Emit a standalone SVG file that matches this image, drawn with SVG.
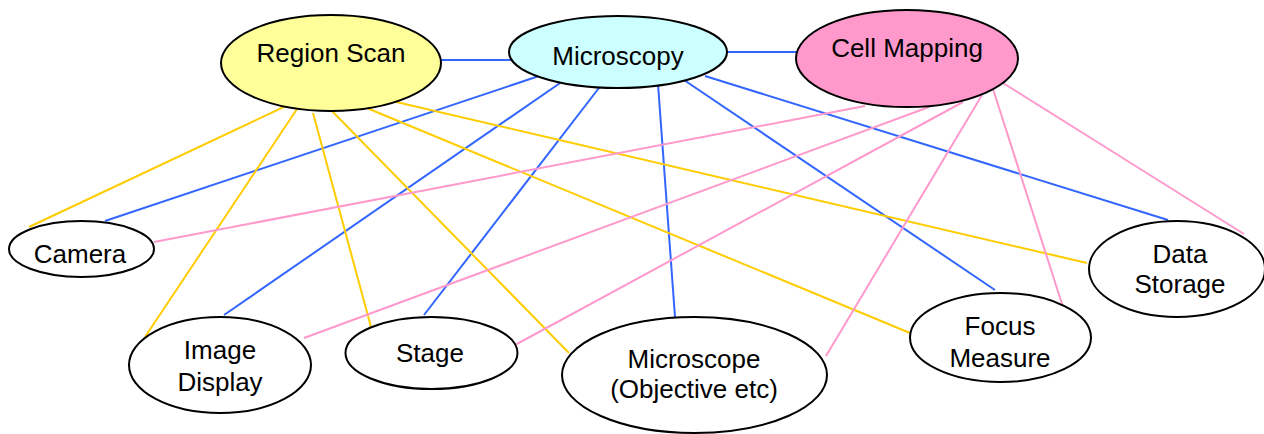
<svg xmlns="http://www.w3.org/2000/svg" width="1264" height="434" viewBox="0 0 1264 434">
<style>
.n{stroke:#000;stroke-width:2;fill:#fff}
.t{font-family:"Liberation Sans",Arial,sans-serif;font-size:26px;fill:#000;text-anchor:middle}
.y{stroke:#FFCC00;stroke-width:2;fill:none}
.b{stroke:#3366FF;stroke-width:2;fill:none}
.p{stroke:#FF99CC;stroke-width:2;fill:none}
</style>
<rect width="1264" height="434" fill="#fff"/>
<g id="connectors">
<line class="b" x1="440" y1="60" x2="515" y2="60"/>
<line class="b" x1="727" y1="52" x2="798" y2="52"/>
<line class="b" x1="539" y1="76" x2="105" y2="221"/>
<line class="b" x1="563" y1="81" x2="224" y2="315"/>
<line class="b" x1="602" y1="84" x2="424" y2="315"/>
<line class="b" x1="658" y1="84" x2="675" y2="317"/>
<line class="b" x1="684" y1="80" x2="995" y2="290"/>
<line class="b" x1="705" y1="76" x2="1168" y2="220"/>
<line class="y" x1="288" y1="105" x2="29" y2="227"/>
<line class="y" x1="297" y1="109" x2="145" y2="337"/>
<line class="y" x1="313" y1="113" x2="371" y2="327"/>
<line class="y" x1="330" y1="109" x2="569" y2="353"/>
<line class="y" x1="362" y1="106" x2="910" y2="333"/>
<line class="y" x1="392" y1="101" x2="1087" y2="263"/>
<line class="p" x1="865" y1="106" x2="154" y2="242"/>
<line class="p" x1="929" y1="107" x2="304" y2="338"/>
<line class="p" x1="963" y1="102" x2="515" y2="345"/>
<line class="p" x1="982" y1="95" x2="826" y2="356"/>
<line class="p" x1="993" y1="89" x2="1063" y2="307"/>
<line class="p" x1="1003" y1="83" x2="1244" y2="234"/>
</g>
<g id="region-scan">
<ellipse class="n" cx="331" cy="63" rx="110" ry="48" fill="#FFFF99" style="fill:#FFFF99"/>
<text class="t" x="331" y="62">Region Scan</text>
</g>
<g id="microscopy">
<ellipse class="n" cx="618" cy="52" rx="109" ry="36" style="fill:#CCFFFF"/>
<text class="t" x="618" y="65">Microscopy</text>
</g>
<g id="cell-mapping">
<ellipse class="n" cx="907" cy="58.5" rx="111" ry="48.5" style="fill:#FF99CC"/>
<text class="t" x="907" y="57">Cell Mapping</text>
</g>
<g id="camera">
<ellipse class="n" cx="81.5" cy="249" rx="72.5" ry="28"/>
<text class="t" x="80" y="263">Camera</text>
</g>
<g id="image-display">
<ellipse class="n" cx="220" cy="365" rx="91" ry="48"/>
<text class="t" x="220" y="359">Image</text>
<text class="t" x="220" y="391">Display</text>
</g>
<g id="stage">
<ellipse class="n" cx="431.5" cy="353" rx="86" ry="36"/>
<text class="t" x="430" y="362">Stage</text>
</g>
<g id="microscope">
<ellipse class="n" cx="694.5" cy="375" rx="132.5" ry="58"/>
<text class="t" x="694" y="368">Microscope</text>
<text class="t" x="694" y="398">(Objective etc)</text>
</g>
<g id="focus-measure">
<ellipse class="n" cx="1000.5" cy="337.5" rx="90.5" ry="44.5"/>
<text class="t" x="1000" y="335">Focus</text>
<text class="t" x="1000" y="367">Measure</text>
</g>
<g id="data-storage">
<ellipse class="n" cx="1177" cy="269" rx="88" ry="48"/>
<text class="t" x="1180" y="263">Data</text>
<text class="t" x="1180" y="293">Storage</text>
</g>
</svg>
